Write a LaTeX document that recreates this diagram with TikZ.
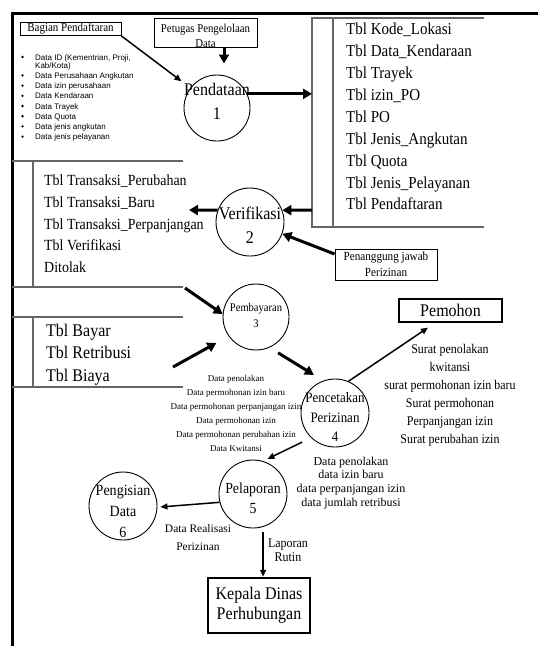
\documentclass[tikz,border=0pt]{standalone}
\usepackage{fontspec}
\setmainfont{Liberation Serif}
\newfontfamily\cond{Liberation Serif}[FakeStretch=0.9]
\newfontfamily\listfont{Liberation Sans}
\usetikzlibrary{arrows.meta}
\newcommand\myfs[2]{\fontsize{#1pt}{#2pt}\selectfont}
\begin{document}
\begin{tikzpicture}[x=1pt,y=-1pt,
  proc/.style={circle,draw,line width=0.9pt,minimum size=#1,inner sep=0pt},
  ptext/.style={align=center,inner sep=0pt},
  ent/.style={draw,line width=1pt,inner sep=0pt,align=center},
  bigarrow/.style={line width=3pt,-{Triangle[length=9pt,width=10pt]}},
  smallarrow/.style={line width=1.5pt,-{Triangle[length=7pt,width=6pt]}},
  store/.style={draw=black!60,line width=1.3pt},
  lbl/.style={align=center,inner sep=0pt},
]
\useasboundingbox (0,0) rectangle (538,646);
\fill[white] (0,0) rectangle (538,646);
\draw[line width=3pt] (538,13) -- (12,13) -- (12,646);

% ---- data stores ----
\draw[store] (484,18) -- (312,18) -- (312,227) -- (484,227);
\draw[store] (333,18) -- (333,227);
\node[lbl,anchor=north west,align=left,font=\cond\myfs{16.7}{21.9}] (t1text) at (346,23)
 {Tbl Kode\_Lokasi\\Tbl Data\_Kendaraan\\Tbl Trayek\\Tbl izin\_PO\\Tbl PO\\Tbl Jenis\_Angkutan\\Tbl Quota\\Tbl Jenis\_Pelayanan\\Tbl Pendaftaran};

\draw[store] (183,161) -- (12,161);
\draw[store] (12,287) -- (183,287);
\draw[store] (33,161) -- (33,287);
\node[lbl,anchor=north west,align=left,font=\cond\myfs{15.5}{21.8}] (t2text) at (44,174.5)
 {Tbl Transaksi\_Perubahan\\Tbl Transaksi\_Baru\\Tbl Transaksi\_Perpanjangan\\Tbl Verifikasi\\Ditolak};

\draw[store] (12,317) -- (183,317);
\draw[store] (12,387) -- (183,387);
\draw[store] (33,317) -- (33,387);
\node[lbl,anchor=north west,align=left,font=\cond\myfs{17.8}{22.5}] (t3text) at (46,323.5)
 {Tbl Bayar\\Tbl Retribusi\\Tbl Biaya};

% ---- list ----
\node[lbl,anchor=north west,align=left,font=\listfont\myfs{8}{10.2}] (list) at (35,54)
 {Data ID (Kementrian, Proji,\\[-2pt]Kab/Kota)\\Data Perusahaan Angkutan\\Data izin perusahaan\\Data Kendaraan\\Data Trayek\\Data Quota\\Data jenis angkutan\\Data jenis pelayanan};
\foreach \yy in {57,75.4,85.6,95.8,106,116.2,126.4,136.6}
  \fill (22.5,\yy) circle (1.3pt);

% ---- processes ----
\node[proc=66pt] (p1) at (217,108) {};
\node[ptext,font=\cond\myfs{17.8}{24}] (p1t) at (217,101) {Pendataan\\1};
\node[proc=68pt] (p2) at (250,222) {};
\node[ptext,font=\cond\myfs{17.8}{24}] (p2t) at (250,225) {Verifikasi\\2};
\node[proc=66pt] (p3) at (256,317) {};
\node[ptext,font=\cond\myfs{11.7}{16}] (p3t) at (256,315) {Pembayaran\\3};
\node[proc=68pt] (p4) at (335,413) {};
\node[ptext,font=\cond\myfs{14.4}{19.5}] (p4t) at (335,417.3) {Pencetakan\\Perizinan\\4};
\node[proc=68pt] (p5) at (253,494) {};
\node[ptext,font=\cond\myfs{15.4}{20}] (p5t) at (253,498) {Pelaporan\\5};
\node[proc=68pt] (p6) at (123,506) {};
\node[ptext,font=\cond\myfs{15.6}{21}] (p6t) at (123,511) {Pengisian\\Data\\6};

% ---- entities ----
\node[ent,minimum width=101pt,minimum height=13pt,font=\cond\myfs{12.2}{13}] (bag) at (70.5,29) {Bagian Pendaftaran};
\node[ent,minimum width=103pt,minimum height=29pt] (pet) at (205.5,32.5) {};
\node[lbl,font=\cond\myfs{12}{15}] (pett) at (205.5,35.4) {Petugas Pengelolaan\\Data};
\node[ent,minimum width=102pt,minimum height=31pt,font=\cond\myfs{12.4}{16}] (pen) at (386,264.5) {Penanggung jawab\\Perizinan};
\node[ent,line width=1.3pt,minimum width=103pt,minimum height=23pt,font=\cond\myfs{17.8}{18}] (pem) at (450.5,310.5) {Pemohon};
\node[ent,line width=2.5pt,minimum width=102pt,minimum height=55pt,font=\cond\myfs{17.8}{20}] (kep) at (259,605.5) {Kepala Dinas\\Perhubungan};

% ---- flow labels ----
\node[lbl,font=\cond\myfs{13.3}{18}] (lpem) at (450,395.2) {Surat penolakan\\kwitansi\\surat permohonan izin baru\\Surat permohonan\\Perpanjangan izin\\Surat perubahan izin};
\node[lbl,font=\myfs{9}{14}] (l34) at (236,413) {Data penolakan\\Data permohonan izin baru\\Data permohonan perpanjangan izin\\Data permohonan izin\\Data permohonan perubahan izin\\Data Kwitansi};
\node[lbl,font=\myfs{12}{13.7}] (l45) at (351,482.8) {Data penolakan\\data izin baru\\data perpanjangan izin\\data jumlah retribusi};
\node[lbl,font=\myfs{11.5}{18}] (l56) at (198,537.9) {Data Realisasi\\Perizinan};
\node[lbl,font=\cond\myfs{13.3}{14}] (l5k) at (288,549.9) {Laporan\\Rutin};

% ---- coordinates ----
\coordinate (t1w) at (312,210);
\coordinate (t2e) at (189,210);
\coordinate (t2b) at (185,288);
\coordinate (t3s) at (173,367);

% ---- connectors ----
\draw[smallarrow,shorten >=11pt] (bag.south east) -- (p1);
\draw[bigarrow] ([xshift=18.5pt]pet.south) -- ++(0,16);
\draw[bigarrow] (p1.25) -- (p1.25 -| t1w);
\draw[bigarrow] (t1w) -- (p2.20);
\draw[bigarrow] (p2.160) -- (t2e);
\draw[bigarrow] ([yshift=10.5pt]pen.west) -- (p2.340);
\draw[bigarrow] (t2b) -- (p3.175);
\draw[bigarrow,shorten >=14pt] (t3s) -- (p3.215);
\draw[bigarrow,shorten <=10pt,shorten >=11pt] (p3.294) -- (p4.110);
\draw[smallarrow] (p4.67) -- ([xshift=-22.5pt,yshift=-5pt]pem.south);
\draw[smallarrow,shorten <=10pt,shorten >=5pt] (p4.226) -- (p5.73);
\draw[smallarrow,shorten >=3pt] (p5.194) -- (p6.358);
\draw[smallarrow,shorten <=5pt] (p5.287) -- (p5.287 |- kep.north);
\end{tikzpicture}
\end{document}
